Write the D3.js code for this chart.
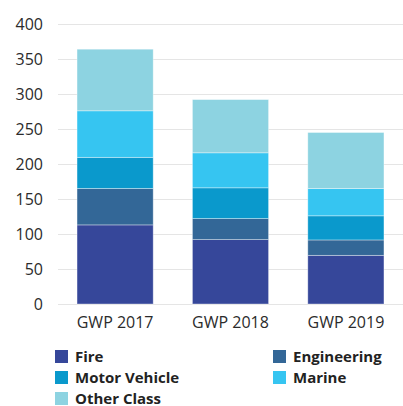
<!DOCTYPE html>
<html>
<head>
<meta charset="utf-8">
<script src="https://cdn.jsdelivr.net/npm/d3@7"></script>
<style>
  body { margin: 0; background: #fff; }
  text { font-family: "Open Sans", Lato, sans-serif; }
</style>
</head>
<body>
<div id="chart"></div>
<script>
let width = 403, height = 406;
let margin = ({top: 24, right: 0, bottom: 102, left: 58});

let years = ["GWP 2017", "GWP 2018", "GWP 2019"];
let classes = ["Fire", "Engineering", "Motor Vehicle", "Marine", "Other Class"];
let colors = ["#36479a", "#336797", "#0a99cc", "#36c5f1", "#8dd3e1"];
let fire = [113, 92, 69.5];
let engineering = [52, 30, 22];
let motorVehicle = [44.5, 44, 34.5];
let marine = [66.5, 50, 39];
let otherClass = [88, 76, 80];
let yTicks = [0, 50, 100, 150, 200, 250, 300, 350, 400];

let series = [fire, engineering, motorVehicle, marine, otherClass];
let data = years.map((y, i) => {
    let row = {year: y};
    classes.forEach((c, k) => row[c] = series[k][i]);
    return row;
});
let stacked = d3.stack().keys(classes)(data);

let x = d3.scaleBand()
    .domain(years)
    .range([margin.left, width - margin.right])
    .paddingInner(0.34)
    .paddingOuter(0.165);
let y = d3.scaleLinear()
    .domain([0, 400])
    .range([height - margin.bottom, margin.top]);
let color = d3.scaleOrdinal().domain(classes).range(colors);

let svg = d3.select("#chart")
    .append("svg")
    .attr("width", width)
    .attr("height", height);

// gridlines
svg.append("g")
    .attr("class", "grid")
    .attr("transform", `translate(${margin.left},0)`)
    .call(d3.axisLeft(y).tickValues(yTicks).tickSize(-(width - margin.left)).tickFormat(""))
    .call(g => g.select(".domain").remove())
    .call(g => g.selectAll("line").attr("stroke", "#e5e5e5").attr("stroke-width", 1.2));

// y labels
svg.append("g")
    .attr("transform", `translate(${margin.left},0)`)
    .call(d3.axisLeft(y).tickValues(yTicks).tickSize(0).tickPadding(15))
    .call(g => g.select(".domain").remove())
    .call(g => g.selectAll("text")
        .attr("font-size", 16).attr("fill", "#2b2b2b")
        .style("font-family", "'Open Sans', Lato, sans-serif"));

// bars
svg.append("g")
    .selectAll("g")
    .data(stacked)
    .join("g")
    .attr("fill", d => color(d.key))
    .selectAll("rect")
    .data(d => d)
    .join("rect")
    .attr("x", d => x(d.data.year))
    .attr("y", d => y(d[1]))
    .attr("height", d => y(d[0]) - y(d[1]))
    .attr("width", x.bandwidth())
    .attr("stroke", "rgba(255,255,255,0.45)")
    .attr("stroke-width", 0.8);

// x labels
svg.append("g")
    .attr("transform", `translate(0,${height - margin.bottom})`)
    .call(d3.axisBottom(x).tickSize(0).tickPadding(13))
    .call(g => g.select(".domain").remove())
    .call(g => g.selectAll("text")
        .attr("font-size", 16).attr("fill", "#2b2b2b")
        .style("font-family", "'Open Sans', Lato, sans-serif"));

// legend
let legendPos = [[55, 350], [273, 350], [55, 371], [273, 371], [55, 392]];
let legend = svg.append("g")
    .selectAll("g")
    .data(classes)
    .join("g")
    .attr("transform", (d, i) => `translate(${legendPos[i][0]},${legendPos[i][1]})`);
legend.append("rect")
    .attr("width", 13)
    .attr("height", 13)
    .attr("fill", d => color(d));
legend.append("text")
    .attr("x", 20)
    .attr("y", 12)
    .attr("font-size", 15)
    .attr("font-weight", "bold")
    .attr("fill", "#222")
    .text(d => d);
</script>
</body>
</html>
